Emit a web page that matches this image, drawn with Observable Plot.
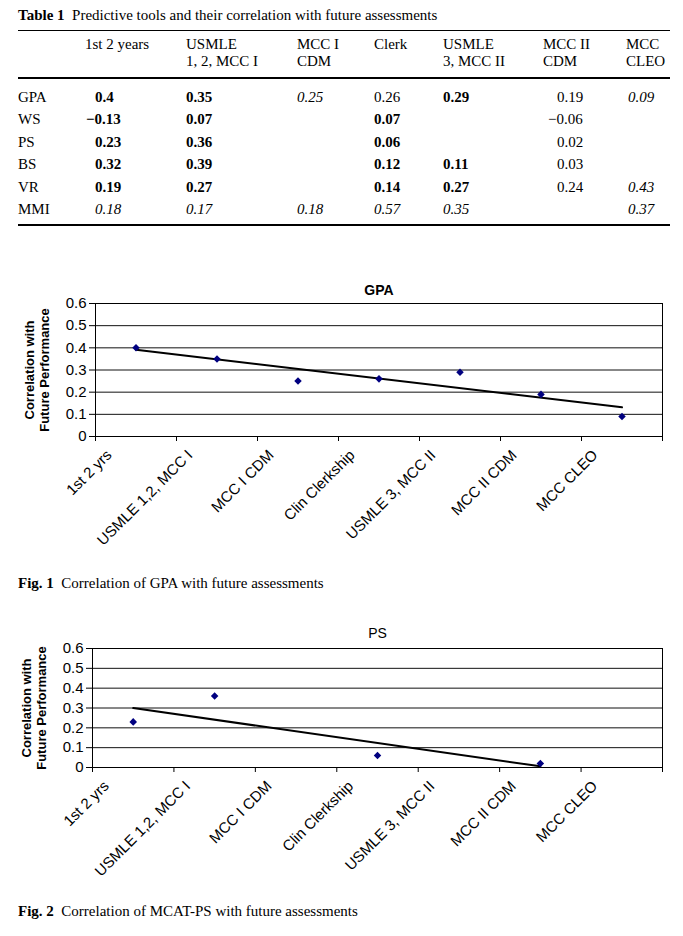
<!DOCTYPE html>
<html>
<head>
<meta charset="utf-8">
<script src="https://cdn.jsdelivr.net/npm/d3@7"></script>
<script src="https://cdn.jsdelivr.net/npm/@observablehq/plot@0.6"></script>
<style>
  html, body { margin: 0; padding: 0; background: #fff; }
  #wrap { position: relative; width: 683px; height: 936px; overflow: hidden; font-family: "Liberation Serif", "Times New Roman", serif; color: #000; }
  .t { position: absolute; white-space: pre; font-size: 15px; line-height: 18px; }
  .rule { position: absolute; left: 18px; width: 652px; background: #000; }
  .chart { position: absolute; left: 0; }
</style>
</head>
<body>
<div id="wrap"></div>
<script>
// ---------- Table data ----------
const tableTitleLabel = "Table 1";
const tableTitleText = "Predictive tools and their correlation with future assessments";
const tableColumns = ["1st 2 years", "USMLE\n1, 2, MCC I", "MCC I\nCDM", "Clerk", "USMLE\n3, MCC II", "MCC II\nCDM", "MCC\nCLEO"];
const rowLabels = ["GPA", "WS", "PS", "BS", "VR", "MMI"];
const gpa = [0.4, 0.35, 0.25, 0.26, 0.29, 0.19, 0.09];
const ws  = [-0.13, 0.07, null, 0.07, null, -0.06, null];
const ps  = [0.23, 0.36, null, 0.06, null, 0.02, null];
const bs  = [0.32, 0.39, null, 0.12, 0.11, 0.03, null];
const vr  = [0.19, 0.27, null, 0.14, 0.27, 0.24, 0.43];
const mmi = [0.18, 0.17, 0.18, 0.57, 0.35, null, 0.37];
// emphasis as printed: b = bold, i = italic, n = plain
const gpaMark = ["b", "b", "i", "n", "b", "n", "i"];
const wsMark  = ["b", "b", "", "b", "", "n", ""];
const psMark  = ["b", "b", "", "b", "", "n", ""];
const bsMark  = ["b", "b", "", "b", "b", "n", ""];
const vrMark  = ["b", "b", "", "b", "b", "n", "i"];
const mmiMark = ["i", "i", "i", "i", "i", "", "i"];

// ---------- Chart data ----------
const categories = ["1st 2 yrs", "USMLE 1,2, MCC I", "MCC I CDM", "Clin Clerkship", "USMLE 3, MCC II", "MCC II CDM", "MCC CLEO"];
const yTicks = [0, 0.1, 0.2, 0.3, 0.4, 0.5, 0.6];
const yAxisTitle = "Correlation with\nFuture Performance";
const fig1Title = "GPA";
const fig2Title = "PS";
const fig1Caption = ["Fig. 1", "Correlation of GPA with future assessments"];
const fig2Caption = ["Fig. 2", "Correlation of MCAT-PS with future assessments"];

// ---------- Layout ----------
const wrap = document.getElementById("wrap");
function addText(txt, x, yc, style = {}) {
  const d = document.createElement("div");
  d.className = "t";
  d.textContent = txt;
  d.style.left = x + "px";
  d.style.top = (yc - 9) + "px";
  Object.assign(d.style, style);
  wrap.appendChild(d);
  return d;
}
function addRule(y, h) {
  const d = document.createElement("div");
  d.className = "rule";
  d.style.top = y + "px";
  d.style.height = h + "px";
  wrap.appendChild(d);
}

// Table title
const tt = addText("", 18, 15);
tt.innerHTML = "<b>" + tableTitleLabel + "</b>&nbsp;&nbsp;" + tableTitleText;
addRule(30, 1);
addRule(77, 2);
addRule(224, 1.5);

const headX = [85, 186, 297, 374, 443, 543, 626];
const valX  = [95, 186, 297, 374, 443, 557, 628];
tableColumns.forEach((c, j) => {
  c.split("\n").forEach((line, k) => addText(line, headX[j], 44 + k * 17));
});
const rowValues = [gpa, ws, ps, bs, vr, mmi];
const rowMarks = [gpaMark, wsMark, psMark, bsMark, vrMark, mmiMark];
rowLabels.forEach((r, i) => {
  const yc = 97 + i * 22.4;
  addText(r, 18, yc);
  rowValues[i].forEach((v, j) => {
    if (v == null) return;
    const neg = v < 0;
    const s = (neg ? "\u2212" : "") + String(Math.abs(v));
    const m = rowMarks[i][j];
    addText(s, valX[j] - (neg ? 9 : 0), yc, {
      fontWeight: m === "b" ? "bold" : "normal",
      fontStyle: m === "i" ? "italic" : "normal"
    });
  });
});

// ---------- Charts ----------
function chart({values, title, titleWeight, top, height, mt, plotH, ml, titleDy}) {
  const data = values.map((v, i) => ({x: i + 1, y: v})).filter(d => d.y != null);
  const boundaries = d3.range(0.5, categories.length + 1, 1);
  const p = Plot.plot({
    width: 683,
    height,
    marginLeft: ml,
    marginRight: 21,
    marginTop: mt,
    marginBottom: height - mt - plotH,
    x: {domain: [0.5, categories.length + 0.5], axis: null},
    y: {domain: [0, 0.6], axis: null},
    style: {fontFamily: "'Liberation Sans', Arial, sans-serif", fontSize: "15px", background: "transparent", overflow: "visible"},
    marks: [
      Plot.ruleY(yTicks, {stroke: "#111", strokeWidth: 1}),
      Plot.frame({stroke: "#000"}),
      Plot.axisY({ticks: yTicks, tickSize: 6, tickPadding: 3, tickFormat: d => d === 0 ? "0" : d.toFixed(1), label: null, fontSize: 15}),
      Plot.axisX({ticks: boundaries, tickSize: 5, tickFormat: () => "", label: null}),
      Plot.text(categories, {x: (d, i) => i + 1, frameAnchor: "bottom", rotate: -45, textAnchor: "end", lineAnchor: "top", dx: -31, dy: 12, fontSize: 15}),
      Plot.linearRegressionY(data, {x: "x", y: "y", ci: 0, stroke: "#000", strokeWidth: 2}),
      Plot.dot(data, {x: "x", y: "y", symbol: "diamond2", fill: "#000080", stroke: "none", r: 3.4}),
      Plot.text([title], {frameAnchor: "top", dy: titleDy, fontWeight: titleWeight, fontSize: 14}),
      Plot.text([yAxisTitle], {frameAnchor: "left", textAnchor: "middle", lineAnchor: "middle", dx: -59, rotate: -90, fontWeight: "bold", fontSize: 13, lineHeight: 1.2})
    ]
  });
  const d = document.createElement("div");
  d.className = "chart";
  d.style.top = top + "px";
  d.appendChild(p);
  wrap.appendChild(d);
}

chart({values: gpa, title: fig1Title, titleWeight: "bold", top: 270, height: 300, mt: 33, plotH: 133, ml: 95, titleDy: -18});
const c1 = addText("", 18, 583);
c1.innerHTML = "<b>" + fig1Caption[0] + "</b>&nbsp;&nbsp;" + fig1Caption[1];

chart({values: ps, title: fig2Title, titleWeight: "normal", top: 610, height: 290, mt: 38, plotH: 119, ml: 92, titleDy: -20});
const c2 = addText("", 18, 911);
c2.innerHTML = "<b>" + fig2Caption[0] + "</b>&nbsp;&nbsp;" + fig2Caption[1];
</script>
</body>
</html>
